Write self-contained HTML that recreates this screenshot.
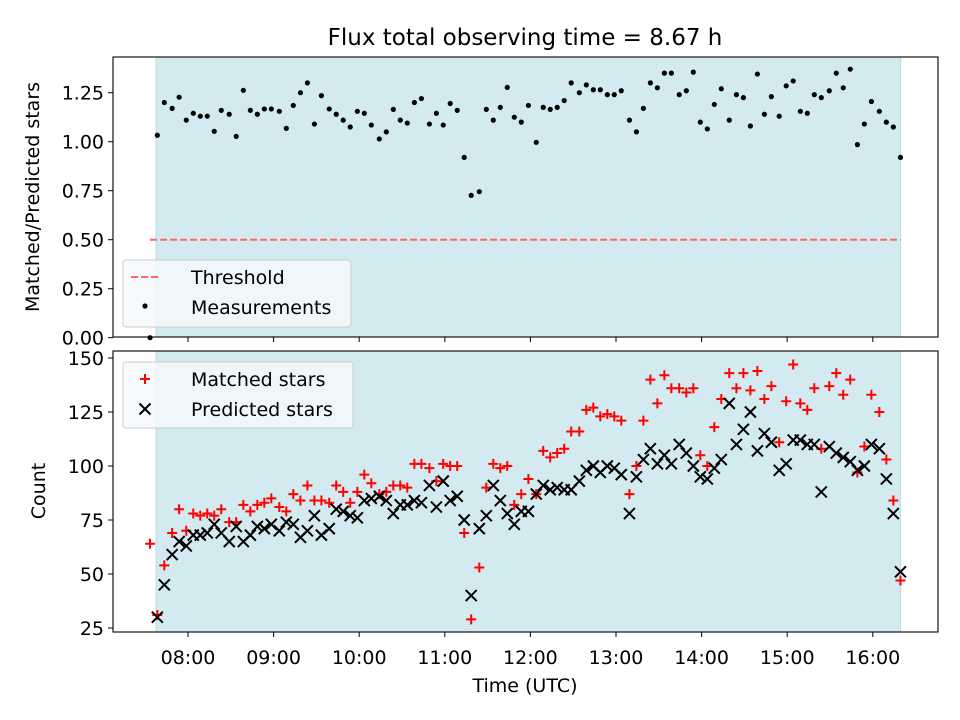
<!DOCTYPE html>
<html><head><meta charset="utf-8"><style>
body{margin:0;background:#fff;}
svg{display:block;font-family:"DejaVu Sans","Liberation Sans",sans-serif;}
</style></head><body>
<svg id="chart" width="960" height="720" xmlns="http://www.w3.org/2000/svg">
<text x="525" y="45" font-size="23" text-anchor="middle">Flux total observing time = 8.67 h</text>
<text transform="translate(39,197) rotate(-90)" font-size="19" text-anchor="middle">Matched/Predicted stars</text>
<text transform="translate(45,491) rotate(-90)" font-size="19" text-anchor="middle">Count</text>
<text x="525" y="692" font-size="19" text-anchor="middle">Time (UTC)</text>
<g id="topg"></g><g id="botg"></g>
</svg>
<script>
const times=[38.5,43.4,48.9,53.8,58.8,63.7,68.6,73.5,78.4,83.3,88.9,93.8,98.8,103.7,108.6,113.5,118.4,124.0,128.9,133.8,138.8,143.7,148.6,153.5,159.0,163.9,168.8,173.7,178.7,183.6,188.5,194.1,199.0,203.9,208.8,213.7,218.7,223.6,229.2,234.1,238.9,243.8,248.7,253.6,258.5,264.2,269.1,274.0,278.9,283.8,288.7,293.6,298.6,304.1,309.0,313.9,318.8,323.7,328.6,334.3,339.2,344.1,349.0,353.9,358.8,363.7,369.4,374.3,379.2,384.1,389.0,393.9,398.8,404.3,409.3,414.2,419.1,424.0,428.9,433.8,439.4,444.4,449.3,454.2,459.1,464.0,468.9,474.4,479.3,484.2,489.2,494.1,499.0,503.9,509.5,514.4,519.3,524.2,529.2,534.1,539.0,544.6,549.5,554.4,559.4];
const ratio=[1.033,1.20,1.17,1.227,1.11,1.145,1.13,1.13,1.053,1.16,1.14,1.027,1.262,1.16,1.14,1.167,1.167,1.155,1.068,1.185,1.25,1.30,1.09,1.235,1.167,1.14,1.11,1.075,1.155,1.145,1.085,1.014,1.05,1.165,1.11,1.095,1.20,1.22,1.09,1.145,1.085,1.195,1.16,0.92,0.726,0.745,1.165,1.11,1.175,1.277,1.125,1.10,1.185,0.997,1.175,1.165,1.175,1.21,1.30,1.25,1.29,1.265,1.265,1.24,1.24,1.26,1.11,1.05,1.17,1.30,1.275,1.35,1.35,1.24,1.26,1.355,1.10,1.065,1.19,1.27,1.11,1.24,1.225,1.08,1.345,1.14,1.23,1.13,1.285,1.31,1.155,1.145,1.24,1.225,1.26,1.35,1.275,1.37,0.985,1.09,1.205,1.155,1.10,1.075,0.92];
const predicted=[30,45,59,65,63,68,68,69,73,69,65,72,65,68,72,71,73,70,74,73,67,70,77,68,71,80,79,77,76,84,85,86,84,78,82,82,84,83,91,81,93,84,86,75,40,71,77,91,84,78,73,79,79,87,91,89,90,89,89,93,98,100,97,100,99,96,78,95,103,108,101,105,101,110,106,100,95,94,99,103,129,110,117,125,107,115,111,98,101,112,112,110,110,88,109,106,104,102,98,100,110,108,94,78,51];
const matched=[31,54,69,80,70,78,77,78,77,80,74,74,82,79,82,83,85,81,79,87,84,91,84,84,83,91,88,83,88,96,92,87,88,91,91,90,101,101,99,93,101,100,100,69,29,53,90,101,99,100,82,87,94,87,107,104,106,108,116,116,126,127,123,124,123,121,87,100,121,140,129,142,136,136,134,136,105,100,118,131,143,136,143,135,144,131,137,111,130,147,129,126,136,108,137,143,133,140,97,109,133,125,103,84,47];
const xTickLabels=["08:00","09:00","10:00","11:00","12:00","13:00","14:00","15:00","16:00"];
const xTickMinutes=[60,120,180,240,300,360,420,480,540];
const topTicks=[0,0.25,0.5,0.75,1.0,1.25];
const botTicks=[25,50,75,100,125,150];
const threshold=[0.5];
const shadeRange=[37.6,559.5];
const extraTime=[33.4];

const NS="http://www.w3.org/2000/svg";
const L=113,R=938;
const x=m=>188+(m-60)/60*85.6;
const yT=v=>337.7-v*196;
const yB=v=>358+(150-v)*2.16;
function mk(tag,attrs,parent){const e=document.createElementNS(NS,tag);for(const k in attrs)e.setAttribute(k,attrs[k]);parent.appendChild(e);return e;}
const gTop=document.getElementById('topg'),gBot=document.getElementById('botg');

function axes(g,y0,y1,ticks,yf,fmt,name){
  const sh=mk('rect',{x:x(shadeRange[0]),y:y0,width:x(shadeRange[1])-x(shadeRange[0]),height:y1-y0,fill:'#d4eaf1'},g);
  
  
  mk('line',{x1:x(shadeRange[1]),x2:x(shadeRange[1]),y1:y0,y2:y1,stroke:'#b9dce6','stroke-width':1},g);
  mk('line',{x1:x(shadeRange[0]),x2:x(shadeRange[0]),y1:y0,y2:y1,stroke:'#b9dce6','stroke-width':1},g);
  ticks.forEach(t=>{const yy=yf(t);
    mk('line',{x1:L-5,x2:L,y1:yy,y2:yy,stroke:'#000','stroke-width':1},g);
    const tx=mk('text',{x:L-9,y:yy+7,'font-size':19,'text-anchor':'end'},g);tx.textContent=fmt(t);
    
    
  });
  xTickMinutes.forEach(m=>mk('line',{x1:x(m),x2:x(m),y1:y1,y2:y1+5,stroke:'#000','stroke-width':1},g));
}
function frame(g,y0,y1,name){const f=mk('rect',{x:L,y:y0,width:R-L,height:y1-y0,fill:'none',stroke:'#000','stroke-width':1.1},g);
  
  }

// top
axes(gTop,57,337,topTicks,yT,v=>v.toFixed(2),'top');
threshold.forEach(t=>{const ln=mk('line',{x1:x(extraTime[0]),x2:x(shadeRange[1]),y1:yT(t),y2:yT(t),stroke:'#ff6666','stroke-width':2,'stroke-dasharray':'7,3'},gTop);
  
  });
times.forEach((t,i)=>{const c=mk('circle',{cx:x(t),cy:yT(ratio[i]),r:2.6,fill:'#000'},gTop);
  
  });
mk('circle',{cx:x(extraTime[0]),cy:yT(0),r:2.6,fill:'#000'},gTop);
const lg1=mk('g',{},gTop);


mk('rect',{x:123,y:260,width:228,height:67,rx:3,fill:'#f5f9fb','fill-opacity':0.85,stroke:'#ccc'},lg1);
mk('line',{x1:131,x2:159,y1:277,y2:277,stroke:'#ff6666','stroke-width':2,'stroke-dasharray':'7,3'},lg1);
let t1=mk('text',{x:191,y:284,'font-size':19},lg1);t1.textContent='Threshold';
mk('circle',{cx:145,cy:306,r:2.6,fill:'#000'},lg1);
let t2=mk('text',{x:191,y:314,'font-size':19},lg1);t2.textContent='Measurements';
frame(gTop,57,337,'top');

// bottom
axes(gBot,351,632,botTicks,yB,v=>String(v),'bottom');
function plus(cx,cy,g){const p=mk('path',{d:`M${cx-5},${cy}H${cx+5}M${cx},${cy-5}V${cy+5}`,stroke:'#ff0000','stroke-width':2,fill:'none'},g);return p;}
function cross(cx,cy,g){const p=mk('path',{d:`M${cx-5.5},${cy-5.5}L${cx+5.5},${cy+5.5}M${cx-5.5},${cy+5.5}L${cx+5.5},${cy-5.5}`,stroke:'#000','stroke-width':2,fill:'none'},g);return p;}
times.forEach((t,i)=>{const p=plus(x(t),yB(matched[i]),gBot);
  
  });
plus(x(extraTime[0]),yB(64),gBot);
times.forEach((t,i)=>{const p=cross(x(t),yB(predicted[i]),gBot);
  
  });
const lg2=mk('g',{},gBot);


mk('rect',{x:123,y:362,width:230,height:66,rx:3,fill:'#f5f9fb','fill-opacity':0.85,stroke:'#ccc'},lg2);
plus(145,379,lg2);
let t3=mk('text',{x:191,y:386,'font-size':19},lg2);t3.textContent='Matched stars';
cross(145,409,lg2);
let t4=mk('text',{x:191,y:416,'font-size':19},lg2);t4.textContent='Predicted stars';
xTickMinutes.forEach((m,i)=>{const tx=mk('text',{x:x(m),y:664,'font-size':19,'text-anchor':'middle'},gBot);tx.textContent=xTickLabels[i];
  
  });
frame(gBot,351,632,'bottom');
</script>
</body></html>
